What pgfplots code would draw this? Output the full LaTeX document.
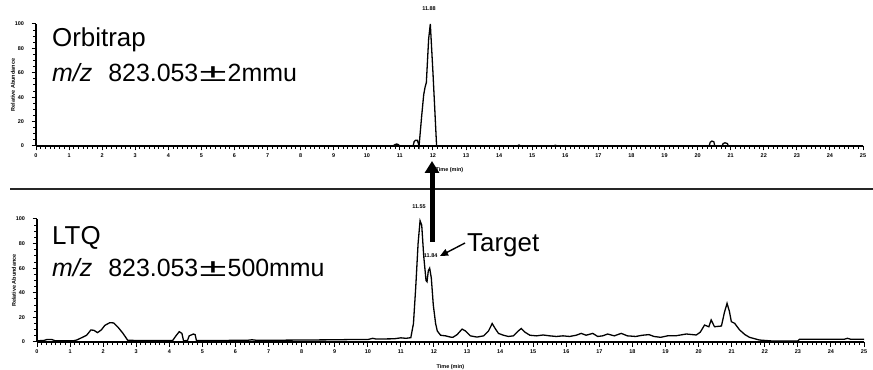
\documentclass[border=0pt]{standalone}
\usepackage{fontspec}
\setmainfont{Liberation Sans}
\usepackage{graphicx}
\usepackage{pgfplots}
\pgfplotsset{compat=1.18}
\usetikzlibrary{arrows.meta}

\pgfplotstableread{
t v
0 0
10.80 0
10.85 1.2
10.90 1.6
10.95 1.2
11.00 0
11.40 0
11.43 3.5
11.47 4.6
11.53 4.6
11.56 2
11.58 0
11.66 25
11.72 42
11.76 48
11.80 52
11.87 88
11.92 100
12.00 60
12.11 0
14.55 0
14.60 0.8
14.66 0
15.64 0
15.70 0.6
15.76 0
20.35 0
20.38 3
20.43 4
20.49 3.5
20.52 0
20.74 0
20.77 2
20.83 2.6
20.90 2
20.93 0
25 0
}\orbitrap

\pgfplotstableread{
t v
0 1.0
0.20 1.2
0.30 2.0
0.45 2.0
0.55 1.0
1.10 1.0
1.20 1.6
1.35 3.5
1.50 5.5
1.63 9.8
1.72 9.5
1.83 7.6
1.95 10
2.05 13.5
2.20 15.7
2.32 15.5
2.45 12
2.60 7
2.74 1.5
3.00 1.2
3.50 1.2
4.10 1.2
4.20 5
4.30 8.4
4.38 7
4.43 1.0
4.55 1.2
4.60 5
4.73 6.5
4.78 6
4.82 1.2
5.50 1.2
6.40 1.5
6.50 1.8
6.60 1.5
7.50 1.5
8.00 1.6
8.50 1.7
9.00 1.8
9.50 2.0
10.00 2.0
10.15 3.0
10.25 2.4
10.80 2.6
11.00 3.4
11.15 3.0
11.30 3.5
11.38 15
11.45 45
11.52 80
11.58 98.6
11.63 95
11.69 70
11.76 50
11.79 49
11.83 58
11.87 60
11.92 52
11.98 30
12.05 15
12.10 9
12.20 5.5
12.35 5
12.50 4
12.57 3.8
12.70 6
12.85 10.5
12.95 9
13.10 5
13.30 4
13.50 5
13.65 9
13.76 15
13.85 11
13.95 7
14.10 5.5
14.25 4.5
14.40 5
14.55 9
14.64 11
14.75 8
14.90 5.5
15.10 5
15.30 5.7
15.50 5
15.70 4.5
15.90 5
16.10 4.5
16.30 5.5
16.45 7
16.60 5.5
16.80 7
16.95 4.5
17.10 5
17.25 6.5
17.45 5
17.66 7
17.85 5
18.10 4.5
18.30 5.5
18.50 6
18.65 4.5
18.85 3.8
19.06 5
19.30 5
19.63 6.5
19.93 5.7
20.05 8
20.18 13.8
20.31 12.4
20.38 17.9
20.48 12.4
20.69 13
20.78 24
20.86 31.4
20.93 25
20.99 16.5
21.09 15.2
21.24 9.8
21.40 6
21.54 3.8
21.84 1.6
22.23 0.8
23.00 0.8
23.05 2.2
24.40 2.2
24.50 3.0
24.60 2.2
25.00 2.2
}\ltq

\pgfplotsset{
  chrom/.style={
    scale only axis, width=827bp, height=122bp,
    xmin=0, xmax=25, ymin=0, ymax=100,
    axis x line*=bottom, axis y line*=left,
    axis line style={line width=1.3bp},
    xtick={0,...,25}, ytick={0,20,...,100},
    minor x tick num=6, minor y tick num=3,
    tick align=outside,
    major tick length=4.5bp, minor tick length=3bp,
    every tick/.style={black, line width=1bp},
    /pgf/number format/assume math mode=true,
    ticklabel style={font=\fontsize{5.5}{5.5}\selectfont\bfseries},
    yticklabel style={xshift=-4bp},
    xlabel={Time (min)}, ylabel={Relative Abundance},
    label style={font=\fontsize{5.5}{5.5}\selectfont\bfseries},
    xlabel style={at={(axis description cs:0.5,-0.2)}, anchor=center},
    ylabel style={at={(axis description cs:-0.028,0.5)}, anchor=center},
    clip=false,
  }
}

\begin{document}
\begin{tikzpicture}
\path[use as bounding box] (0bp,0bp) rectangle (873bp,370bp);

\begin{axis}[chrom, at={(36bp,224bp)}, anchor=origin]
  \addplot[black, line width=1.3bp] table[x=t,y=v] {\orbitrap};
  \node[font=\fontsize{5.5}{5.5}\selectfont\bfseries, anchor=south] at (axis cs:11.88,108) {11.88};
\end{axis}

\begin{axis}[chrom, at={(37bp,28bp)}, anchor=origin, height=123bp]
  \addplot[black, line width=1.3bp] table[x=t,y=v] {\ltq};
  \node[font=\fontsize{5.5}{5.5}\selectfont\bfseries, anchor=south] at (axis cs:11.55,106) {11.55};
  \node[font=\fontsize{5.5}{5.5}\selectfont\bfseries, anchor=south] at (axis cs:11.90,66) {11.84};
\end{axis}

\draw[line width=1.4bp, black!85] (10bp,181bp) -- (873bp,181bp);

\draw[line width=5bp, -{Triangle[width=14bp,length=12bp]}] (432bp,128bp) -- (432bp,209bp);
\draw[line width=1.4bp, -{Triangle[width=7bp,length=8bp]}] (465bp,127bp) -- (440bp,114bp);

\node[anchor=base west, font=\fontsize{26}{26}\selectfont, inner sep=0] at (52bp,323bp) {Orbitrap};
\node[anchor=base west, font=\fontsize{25}{25}\selectfont, inner sep=0] at (52bp,288bp)
  {\textit{m/z}\hspace*{16bp}823.053\hspace*{1bp}\scalebox{2}[1]{±}\hspace*{1bp}2mmu};
\node[anchor=base west, font=\fontsize{26}{26}\selectfont, inner sep=0] at (52bp,125bp) {LTQ};
\node[anchor=base west, font=\fontsize{25}{25}\selectfont, inner sep=0] at (52bp,93bp)
  {\textit{m/z}\hspace*{16bp}823.053\hspace*{1bp}\scalebox{2}[1]{±}\hspace*{1bp}500mmu};
\node[anchor=base west, font=\fontsize{26}{26}\selectfont, inner sep=0] at (467bp,118bp) {Target};
\end{tikzpicture}
\end{document}
